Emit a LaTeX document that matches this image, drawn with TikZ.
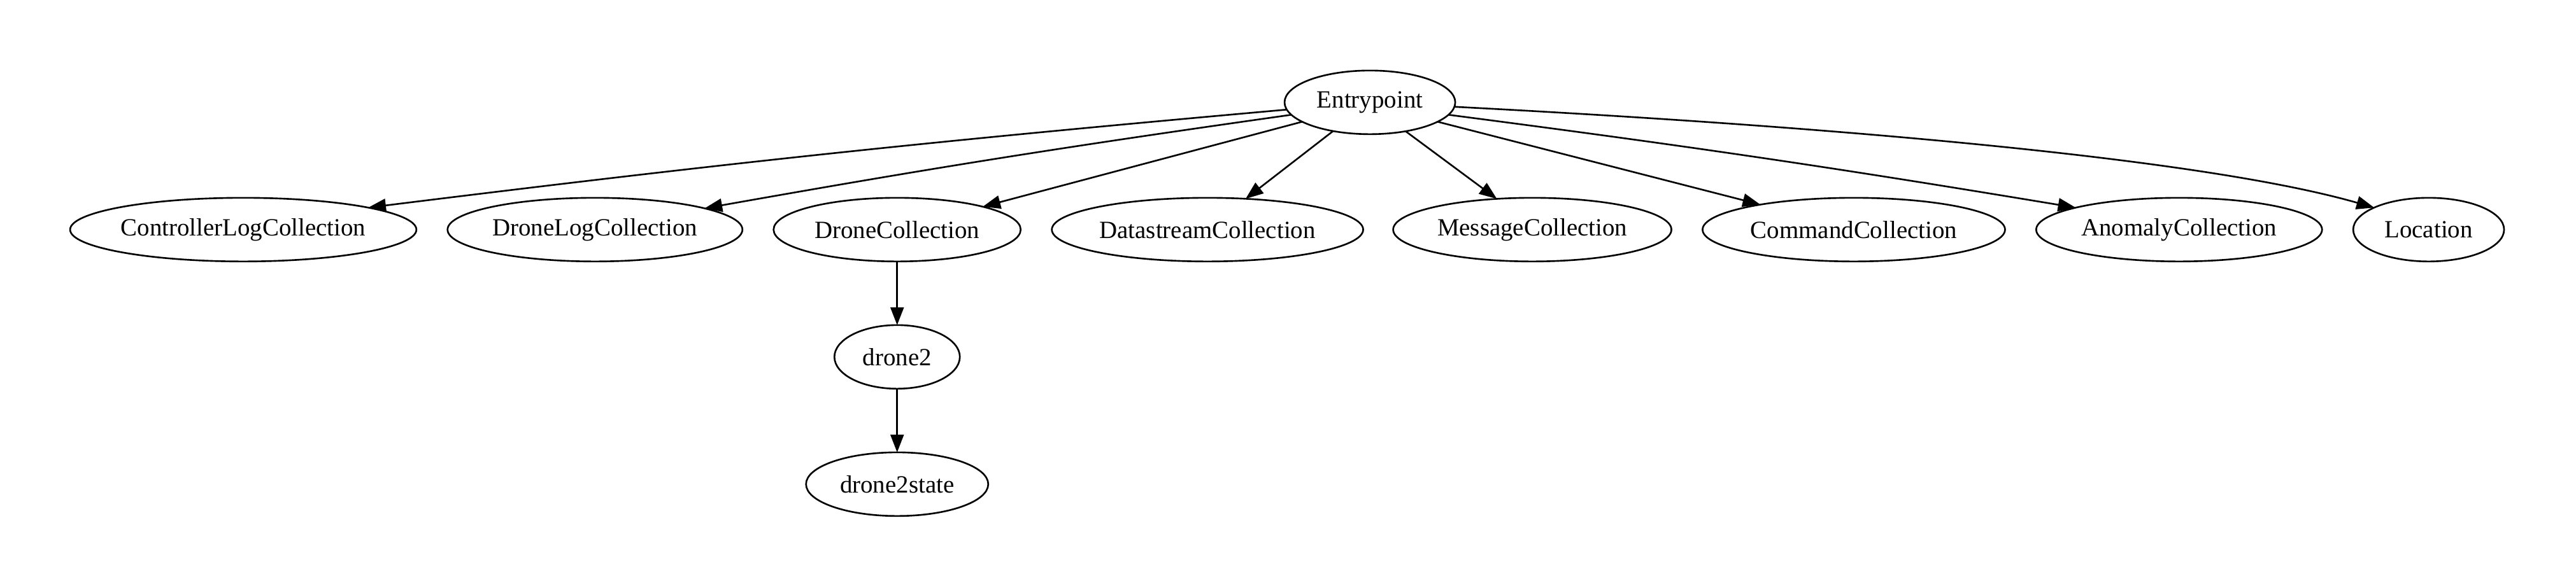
\documentclass[tikz,border=0pt]{standalone}
\usepackage{fontspec}
\setmainfont{Liberation Serif}
\usetikzlibrary{positioning}
\usetikzlibrary{shapes.geometric}
\usetikzlibrary{arrows.meta}

\begin{document}
\begin{tikzpicture}[coll/.style={ellipse, draw, line width=0.95pt, minimum height=36pt, inner sep=0pt, outer sep=0pt, font=\fontsize{14}{16}\selectfont},
    link/.style={-{Triangle[length=10pt,width=7.5pt]}, line width=0.95pt},
    node distance=36pt and 17.6pt]
        \useasboundingbox (-774.4pt,57.9pt) rectangle (681.8pt,-274.4pt);
        % nodes (root)
        \node[coll, minimum width=96.5pt] (ep) {Entrypoint};
        % nodes (collections)
        \node[coll, below=of ep, xshift=-91.8pt, minimum width=176pt] (ds) {DatastreamCollection};
        \node[coll, below=of ep, xshift=91.8pt, minimum width=157.3pt] (msg) {MessageCollection};
        \node[coll, left=of ds, minimum width=139.7pt] (dc) {DroneCollection};
        \node[coll, left=of dc, minimum width=166.7pt] (dl) {DroneLogCollection};
        \node[coll, left=of dl, minimum width=195.1pt] (cl) {ControllerLogCollection};
        \node[coll, right=of msg, minimum width=171pt] (cmd) {CommandCollection};
        \node[coll, right=of cmd, minimum width=161.6pt] (an) {AnomalyCollection};
        \node[coll, right=of an, minimum width=85.3pt] (loc) {Location};
        % nodes (drone)
        \node[coll, below=of dc, minimum width=70.9pt] (d2) {drone2};
        \node[coll, below=of d2, minimum width=103pt] (d2s) {drone2state};

        % edges
        \draw[link] (ep.185.5) to[bend right=1] (cl.10.6);
        \draw[link] (ep.189.2) to[bend right=1] (dl.11.9);
        \draw[link] (ep.196) -- (dc.15.8);
        \draw[link] (ep.218.9) -- (ds.39);
        \draw[link] (ep.321.1) -- (msg.139.6);
        \draw[link] (ep.344.1) -- (cmd.165.2);
        \draw[link] (ep.351.1) to[bend left=1] (an.168.3);
        \draw[link] (ep.357.4) to[out=-3, in=164, looseness=0.6] (loc.158);
        \draw[link] (dc) -- (d2);
        \draw[link] (d2) -- (d2s);
\end{tikzpicture}
\end{document}
